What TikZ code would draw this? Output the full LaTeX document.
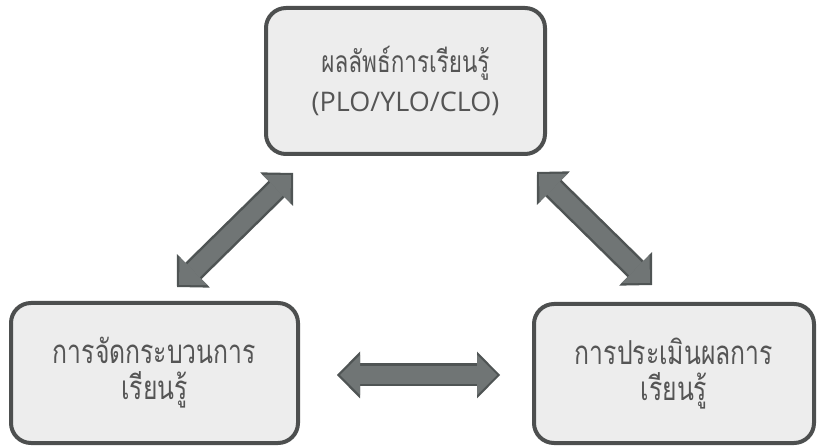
\documentclass[tikz,border=0pt]{standalone}
\usepackage{fontspec}
\newfontfamily\thaifont[Script=Thai, FakeStretch=0.75]{Loma}
\newfontfamily\latinfont[Scale=0.9]{Open Sans}
\usetikzlibrary{positioning, arrows.meta}
\definecolor{boxfill}{HTML}{EDEDED}
\definecolor{boxline}{HTML}{4D4F4F}
\definecolor{boxtext}{HTML}{555555}
\definecolor{arrowfill}{HTML}{707575}
\definecolor{arrowline}{HTML}{4F5454}
\tikzset{
  goalbox/.style={
    rectangle, rounded corners=20pt,
    draw=boxline, fill=boxfill,
    line width=4pt, align=center, text=boxtext,
    font=\thaifont\fontsize{30}{39}\selectfont,
    minimum width=279pt, minimum height=146pt
  },
  stagebox/.style={
    rectangle, rounded corners=20pt,
    draw=boxline, fill=boxfill,
    line width=4pt, align=center, text=boxtext,
    font=\thaifont\fontsize{33}{36}\selectfont,
    minimum width=284pt, minimum height=140pt
  },
  fatarrow/.style={
    line width=18pt, draw=arrowfill,
    shorten <=3pt, shorten >=3pt,
    {Triangle[length=20pt, width=40pt, line width=0pt]}-{Triangle[length=20pt, width=40pt, line width=0pt]},
    preaction={draw=arrowline, line width=23pt, shorten <=0pt, shorten >=0pt,
      {Triangle[length=23pt, width=47pt, line width=0pt]}-{Triangle[length=23pt, width=47pt, line width=0pt]}}
  }
}
\begin{document}
\begin{tikzpicture}
\useasboundingbox (0,0) rectangle (817pt,-446pt);

% ==============================================================================
% Learning outcomes (top)
% ==============================================================================
\node[goalbox] (outcome) at (405.5pt,-81pt) {
  ผลลัพธ์การเรียนรู้\\
  {\latinfont (PLO/YLO/CLO)}
};

% ==============================================================================
% Teaching and assessment (bottom)
% ==============================================================================
\node[stagebox, minimum width=287pt, below=145pt of outcome, xshift=-251pt] (teach) {
  การจัดกระบวนการ\\
  เรียนรู้
};

\node[stagebox, minimum width=280pt, minimum height=139pt, below=146pt of outcome, xshift=268.5pt] (assess) {
  การประเมินผลการ\\
  เรียนรู้
};

% ==============================================================================
% Arrows
% ==============================================================================
\draw[fatarrow] ([xshift=22.5pt, yshift=14pt]teach.north) -- ([xshift=29pt, yshift=-17pt]outcome.south west);
\draw[fatarrow] ([xshift=-10pt, yshift=-16pt]outcome.south east) -- ([xshift=-22pt, yshift=17pt]assess.north);
\draw[fatarrow] ([xshift=37pt, yshift=-2pt]teach.east) -- ([xshift=-32pt, yshift=-1.5pt]assess.west);

\end{tikzpicture}
\end{document}
